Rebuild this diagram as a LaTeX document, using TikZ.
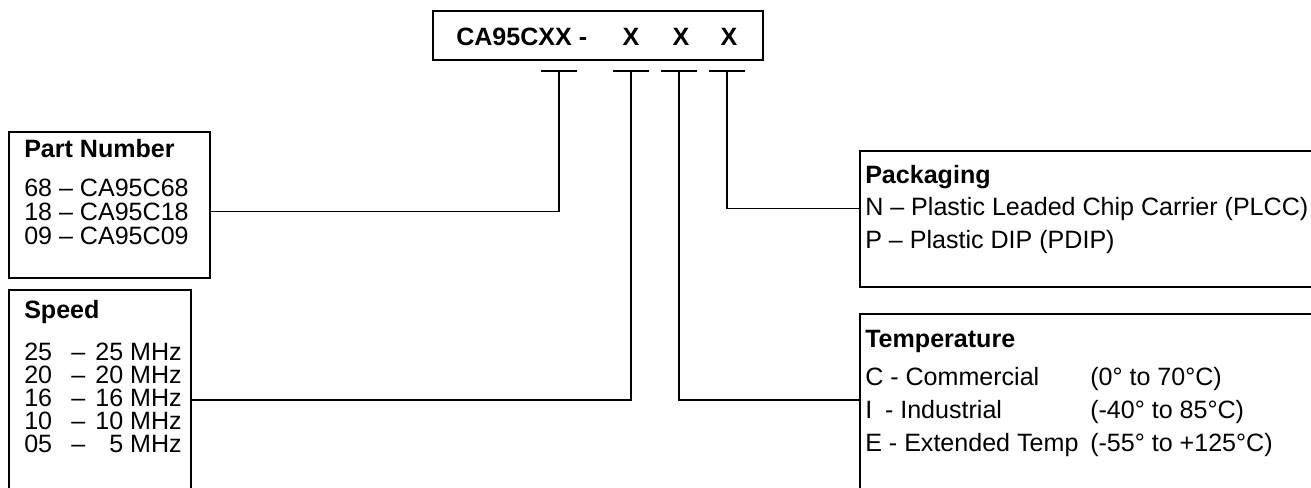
\documentclass[tikz,border=0pt]{standalone}
\usepackage{fontspec}
\setmainfont{Liberation Sans}
\usetikzlibrary{positioning}
\tikzset{
    infobox/.style={draw, line width=1.3pt, anchor=north west, inner sep=0pt},
    entry/.style={anchor=base west, inner sep=0pt, font=\fontsize{18.8}{20}\selectfont},
    heading/.style={entry, font=\fontsize{18.8}{20}\selectfont\bfseries},
    link/.style={line width=1.3pt}
}
\newcommand{\drawTee}[2]{
    \draw[link] (#2-18,71) -- (#2+18,71);
    \coordinate (#1) at (#2,71)
}

\begin{document}
\begin{tikzpicture}[x=0.75pt,y=-0.75pt]
            \useasboundingbox (0,0) rectangle (1311,487);
            \clip (0,0) rectangle (1311,487);

            % ordering code
            \node[infobox, minimum width=247.5pt, minimum height=36.75pt] (code) at (432,10) {};
            \node[heading] (codetext) at (456,45) {CA95CXX -};
            \node[heading, anchor=base] (xspeed) at (631,45) {X};
            \node[heading, anchor=base] (xtemp) at (681,45) {X};
            \node[heading, anchor=base] (xpack) at (729,45) {X};

            \drawTee{teepart}{559};
            \drawTee{teespeed}{631};
            \drawTee{teetemp}{679};
            \drawTee{teepack}{727};

            % left boxes
            \node[infobox, minimum width=150.75pt, minimum height=109.5pt] (part) at (8,131) {};
            \node[heading] (parthead) at (24,157) {Part Number};
            \node[entry] (part68) at (24,196) {68 – CA95C68};
            \node[entry] (part18) at (24,220) {18 – CA95C18};
            \node[entry] (part09) at (24,244) {09 – CA95C09};

            \node[infobox, minimum width=136.5pt, minimum height=165pt] (speed) at (8,289) {};
            \node[heading] (speedhead) at (24,318) {Speed};
            \foreach \num/\val/\y in {25/25/360, 20/20/383, 16/16/406, 10/10/429, 05/5/452} {
                \node[entry] (speed\num) at (24,\y) {\num};
                \node[entry] (dash\num) at (71,\y) {–};
                \node[entry, anchor=base east] (mhz\num) at (182,\y) {\val\ MHz};
            }

            % right boxes
            \node[infobox, minimum width=345pt, minimum height=102pt] (pack) at (859,150) {};
            \node[heading] (packhead) at (865,183) {Packaging};
            \node[entry] (packn) at (865,215) {N – Plastic Leaded Chip Carrier (PLCC)};
            \node[entry] (packp) at (865,248) {P – Plastic DIP (PDIP)};

            \node[infobox, minimum width=345pt, minimum height=150pt] (temp) at (859,313) {};
            \node[heading] (temphead) at (865,347) {Temperature};
            \node[entry] (tempc) at (865,385) {C - Commercial};
            \node[entry] (tempi) at (865,418) {I\hspace{9.6pt}- Industrial};
            \node[entry] (tempe) at (865,451) {E - Extended Temp};
            \node[entry] (rangec) at (1090,385) {(0° to 70°C)};
            \node[entry] (rangei) at (1090,418) {(-40° to 85°C)};
            \node[entry] (rangee) at (1090,451) {(-55° to +125°C)};

            % connectors
            \draw[link] (teepart) |- (part.east |- part18.west);
            \draw[link] (teespeed) |- (speed.east);
            \draw[link] (teetemp) |- (temp.west |- speed.east);
            \draw[link] (teepack) |- (pack.west |- packn.west);
        \end{tikzpicture}
\end{document}
